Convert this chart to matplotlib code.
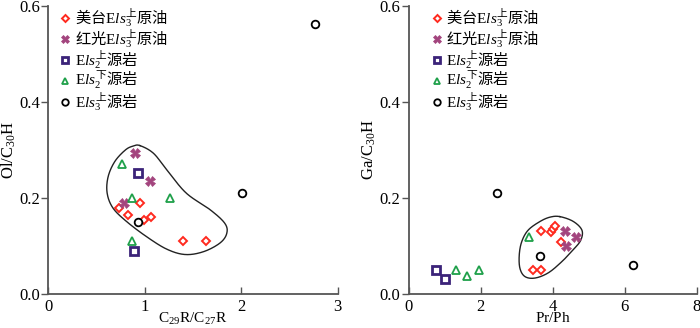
import numpy as np
import matplotlib
matplotlib.use("Agg")
import matplotlib.pyplot as plt

plt.rcParams["font.family"] = ["Liberation Serif", "Noto Sans CJK SC"]
plt.rcParams["mathtext.fontset"] = "custom"
plt.rcParams["mathtext.rm"] = "Liberation Serif"
plt.rcParams["mathtext.it"] = "Liberation Serif:italic"
plt.rcParams["mathtext.sf"] = "Noto Sans CJK SC"

# ---- left panel: C29R/C27R vs Ol/C30H ----
mt_x1 = [0.73, 0.83, 0.95, 0.99, 1.06, 1.40, 1.64]
mt_y1 = [0.178, 0.164, 0.189, 0.153, 0.161, 0.110, 0.110]
hg_x1 = [0.90, 1.05, 0.78]
hg_y1 = [0.294, 0.235, 0.190]
s2u_x1 = [0.93, 0.89]
s2u_y1 = [0.251, 0.090]
s2l_x1 = [0.76, 0.87, 1.26, 0.87]
s2l_y1 = [0.270, 0.200, 0.200, 0.110]
s3u_x1 = [2.76, 2.01, 0.93]
s3u_y1 = [0.562, 0.211, 0.150]
env_x1 = [0.95, 1.09, 1.23, 1.43, 1.68, 1.83, 1.85, 1.78, 1.61, 1.42, 1.23, 1.02,
          0.81, 0.67, 0.61, 0.62, 0.69, 0.80, 0.88]
env_y1 = [0.309, 0.293, 0.258, 0.210, 0.175, 0.147, 0.126, 0.106, 0.088, 0.082,
          0.093, 0.119, 0.151, 0.179, 0.210, 0.244, 0.276, 0.300, 0.308]

# ---- right panel: Pr/Ph vs Ga/C30H ----
mt_x2 = [3.68, 3.94, 4.02, 4.05, 4.23, 3.44, 3.67]
mt_y2 = [0.131, 0.128, 0.135, 0.142, 0.109, 0.050, 0.050]
hg_x2 = [4.35, 4.64, 4.37]
hg_y2 = [0.130, 0.119, 0.100]
s2u_x2 = [0.76, 1.02]
s2u_y2 = [0.049, 0.030]
s2l_x2 = [1.31, 1.63, 1.95, 3.33]
s2l_y2 = [0.049, 0.038, 0.049, 0.118]
s3u_x2 = [2.46, 3.66, 6.24]
s3u_y2 = [0.210, 0.079, 0.060]
env_x2 = [4.20, 4.57, 4.81, 4.78, 4.57, 4.25, 3.88, 3.51, 3.23, 3.09, 3.07, 3.14,
          3.32, 3.65, 3.93]
env_y2 = [0.161, 0.151, 0.133, 0.112, 0.092, 0.067, 0.044, 0.033, 0.036, 0.053,
          0.081, 0.109, 0.133, 0.151, 0.160]

labels = [r"$\mathsf{美台}\mathrm{E}\mathit{ls}_{3}^{\mathsf{上}}\mathsf{原油}$",
          r"$\mathsf{红光}\mathrm{E}\mathit{ls}_{3}^{\mathsf{上}}\mathsf{原油}$",
          r"$\mathrm{E}\mathit{ls}_{2}^{\mathsf{上}}\mathsf{源岩}$",
          r"$\mathrm{E}\mathit{ls}_{2}^{\mathsf{下}}\mathsf{源岩}$",
          r"$\mathrm{E}\mathit{ls}_{3}^{\mathsf{上}}\mathsf{源岩}$"]

styles = [dict(marker="D", mfc="white", mec="#ff2a1f", ms=4.2, mew=1.4),
          dict(marker="X", mfc="#a3457e", mec="#a3457e", ms=6.5, mew=0.5),
          dict(marker="s", mfc="white", mec="#3b2379", ms=5.5, mew=2.0),
          dict(marker="^", mfc="white", mec="#1fa04a", ms=5.5, mew=1.3),
          dict(marker="o", mfc="white", mec="black", ms=5.5, mew=1.3)]


def smooth_closed(xs, ys, n=24):
    # closed Catmull-Rom through hand-read outline points
    pts = np.column_stack([xs, ys])
    m = len(pts)
    t = np.linspace(0, 1, n, endpoint=False)[:, None]
    out = []
    for i in range(m):
        p0, p1, p2, p3 = pts[(i - 1) % m], pts[i], pts[(i + 1) % m], pts[(i + 2) % m]
        out.append(0.5 * (2 * p1 + (-p0 + p2) * t + (2 * p0 - 5 * p1 + 4 * p2 - p3) * t ** 2
                          + (-p0 + 3 * p1 - 3 * p2 + p3) * t ** 3))
    out = np.vstack(out + [out[0][:1]])
    return out[:, 0], out[:, 1]


def panel(ax, series, env, xmax, xticks, xlabel, ylabel, lx):
    ex, ey = smooth_closed(*env)
    ax.plot(ex, ey, color="#222222", lw=1.0, zorder=1)
    for (x, y), st, lab in zip(series, styles, labels):
        ax.plot(x, y, ls="none", label=lab, zorder=3, **st)
    ax.set_xlim(0, xmax)
    ax.set_ylim(0, 0.6)
    ax.set_xticks(xticks)
    ax.set_yticks([0, 0.2, 0.4, 0.6])
    ax.set_yticklabels(["0.0", "0.2", "0.4", "0.6"])
    for s in ["top", "right"]:
        ax.spines[s].set_visible(False)
    for s in ["left", "bottom"]:
        ax.spines[s].set_color("#555555")
        ax.spines[s].set_linewidth(1.3)
    ax.tick_params(axis="y", direction="out", length=5, width=1, color="#555555",
                   labelsize=12, pad=1)
    ax.tick_params(axis="x", direction="in", length=5, width=1, color="#555555",
                   labelsize=12, pad=4)
    ax.set_xlabel(xlabel, fontsize=11, labelpad=-3)
    ax.set_ylabel(ylabel, fontsize=12, labelpad=1)
    ax.legend(loc="upper left", bbox_to_anchor=(lx, 1.0), frameon=False, fontsize=11,
              handletextpad=0.15, labelspacing=-0.1, borderaxespad=0.0,
              handlelength=1.0, borderpad=0.0, markerscale=0.85)


fig = plt.figure(figsize=(7, 3.28), dpi=100)
ax1 = fig.add_axes([0.069, 0.104, 0.4134, 0.878])
ax2 = fig.add_axes([0.5839, 0.104, 0.4114, 0.878])

panel(ax1, [(mt_x1, mt_y1), (hg_x1, hg_y1), (s2u_x1, s2u_y1), (s2l_x1, s2l_y1), (s3u_x1, s3u_y1)],
      (env_x1, env_y1), 3, [0, 1, 2, 3], r"$\mathrm{C_{29}R/C_{27}R}$",
      r"$\mathrm{Ol/C_{30}H}$", 0.03)
panel(ax2, [(mt_x2, mt_y2), (hg_x2, hg_y2), (s2u_x2, s2u_y2), (s2l_x2, s2l_y2), (s3u_x2, s3u_y2)],
      (env_x2, env_y2), 8, [0, 2, 4, 6, 8], r"$\mathrm{Pr/Ph}$",
      r"$\mathrm{Ga/C_{30}H}$", 0.07)

fig.savefig("out.png", dpi=100)
